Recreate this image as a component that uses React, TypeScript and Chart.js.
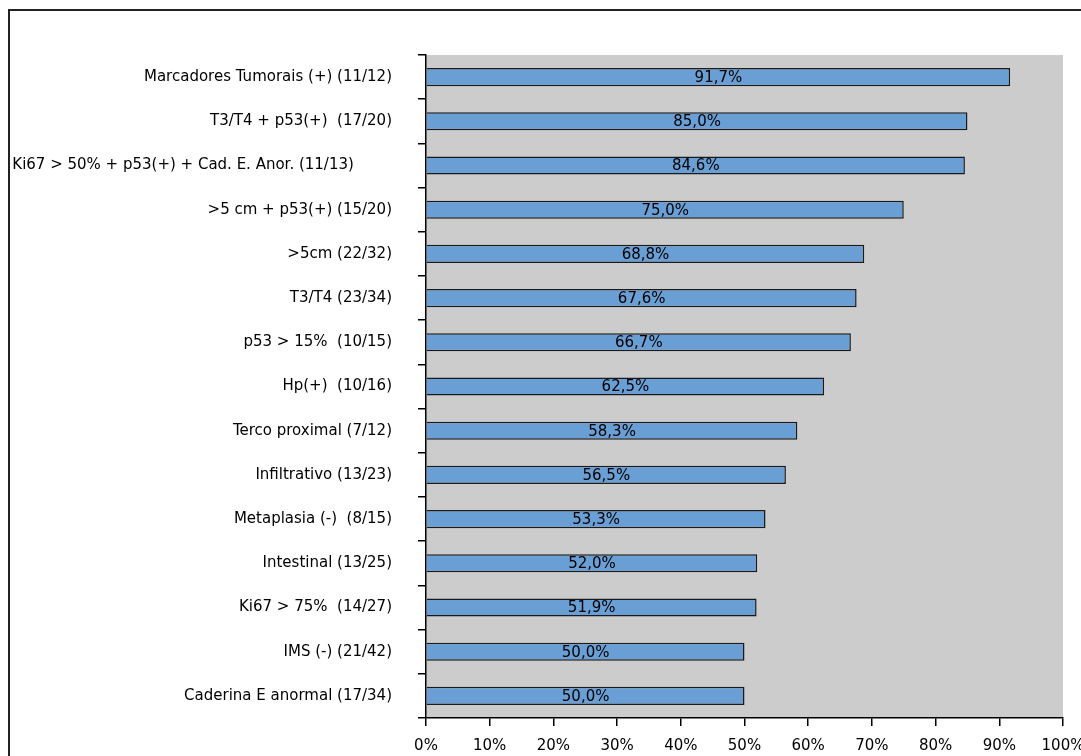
import React, { useEffect, useRef } from "react";
import { Chart, registerables } from "chart.js";

Chart.register(...registerables);

const categories: string[] = [
  "Marcadores Tumorais (+) (11/12)",
  "T3/T4 + p53(+)  (17/20)",
  "Ki67 > 50% + p53(+) + Cad. E. Anor. (11/13)        ",
  ">5 cm + p53(+) (15/20)",
  ">5cm (22/32)",
  "T3/T4 (23/34)",
  "p53 > 15%  (10/15)",
  "Hp(+)  (10/16)",
  "Terco proximal (7/12)",
  "Infiltrativo (13/23)",
  "Metaplasia (-)  (8/15)",
  "Intestinal (13/25)",
  "Ki67 > 75%  (14/27)",
  "IMS (-) (21/42)",
  "Caderina E anormal (17/34)",
];

const percentages: number[] = [
  91.7, 85.0, 84.6, 75.0, 68.8, 67.6, 66.7, 62.5, 58.3, 56.5, 53.3, 52.0, 51.9, 50.0, 50.0,
];

const xTicks: number[] = [0, 10, 20, 30, 40, 50, 60, 70, 80, 90, 100];

const FONT = "'DejaVu Sans', Verdana, sans-serif";

const bgPlugin = {
  id: "bgPlugin",
  beforeDraw(chart: any) {
    const { ctx, chartArea } = chart;
    ctx.save();
    ctx.fillStyle = "#ffffff";
    ctx.fillRect(0, 0, chart.width, chart.height);
    ctx.strokeStyle = "#222222";
    ctx.lineWidth = 2;
    ctx.strokeRect(9, 10, chart.width + 100, chart.height + 100);
    ctx.fillStyle = "#cccccc";
    ctx.fillRect(chartArea.left, chartArea.top, chartArea.right - chartArea.left, chartArea.bottom - chartArea.top);
    ctx.restore();
  },
};

const labelPlugin = {
  id: "labelPlugin",
  afterDatasetsDraw(chart: any) {
    const { ctx } = chart;
    const meta = chart.getDatasetMeta(0);
    ctx.save();
    ctx.font = `15px ${FONT}`;
    ctx.fillStyle = "#000000";
    ctx.textAlign = "center";
    ctx.textBaseline = "middle";
    meta.data.forEach((bar: any, i: number) => {
      const props = bar.getProps(["x", "y", "base"], true);
      const v = percentages[i];
      const txt = v.toFixed(1).replace(".", ",") + "%";
      ctx.fillText(txt, (props.x + props.base) / 2, props.y + 1);
    });
    ctx.restore();
  },
};

export default function App() {
  const ref = useRef<HTMLCanvasElement | null>(null);
  useEffect(() => {
    if (!ref.current) return;
    const chart = new Chart(ref.current, {
      type: "bar",
      data: {
        labels: categories,
        datasets: [
          {
            data: percentages,
            backgroundColor: "#6a9fd6",
            borderColor: "#1a1a1a",
            borderWidth: 1.5,
            categoryPercentage: 1,
            barPercentage: 0.41,
          },
        ],
      },
      options: {
        indexAxis: "y",
        animation: false,
        responsive: false,
        maintainAspectRatio: false,
        layout: { padding: { left: 0, top: 55, right: 18, bottom: 0 } },
        plugins: {
          legend: { display: false },
          tooltip: { enabled: false },
          title: { display: false },
        },
        scales: {
          x: {
            type: "linear",
            min: 0,
            max: 100,
            afterBuildTicks(scale: any) {
              scale.ticks = xTicks.map((v) => ({ value: v }));
            },
            afterFit(scale: any) {
              scale.height = 38;
              scale.paddingLeft = 0;
              scale.paddingRight = 0;
            },
            grid: {
              drawOnChartArea: false,
              drawTicks: true,
              tickLength: 8,
              color: "#000000",
              lineWidth: 1.5,
            },
            border: { display: true, color: "#000000", width: 1.5 },
            ticks: {
              color: "#000000",
              font: { family: FONT, size: 15 },
              padding: 11,
              callback: (v: any) => `${v}%`,
              maxRotation: 0,
              autoSkip: false,
            },
          },
          y: {
            type: "category",
            afterFit(scale: any) {
              scale.width = 426;
              scale.paddingTop = 0;
              scale.paddingBottom = 0;
            },
            grid: {
              offset: true,
              drawOnChartArea: false,
              drawTicks: true,
              tickLength: 8,
              color: "#000000",
              lineWidth: 1.5,
            },
            border: { display: true, color: "#000000", width: 1.5 },
            ticks: {
              color: "#000000",
              font: { family: FONT, size: 15 },
              padding: 26,
              autoSkip: false,
            },
          },
        },
      },
      plugins: [bgPlugin, labelPlugin],
    });
    return () => chart.destroy();
  }, []);
  return (
    <div style={{ position: "fixed", left: 0, top: 0, width: 1081, height: 756 }}>
      <canvas ref={ref} width={1081} height={756} style={{ display: "block", width: 1081, height: 756 }} />
    </div>
  );
}
